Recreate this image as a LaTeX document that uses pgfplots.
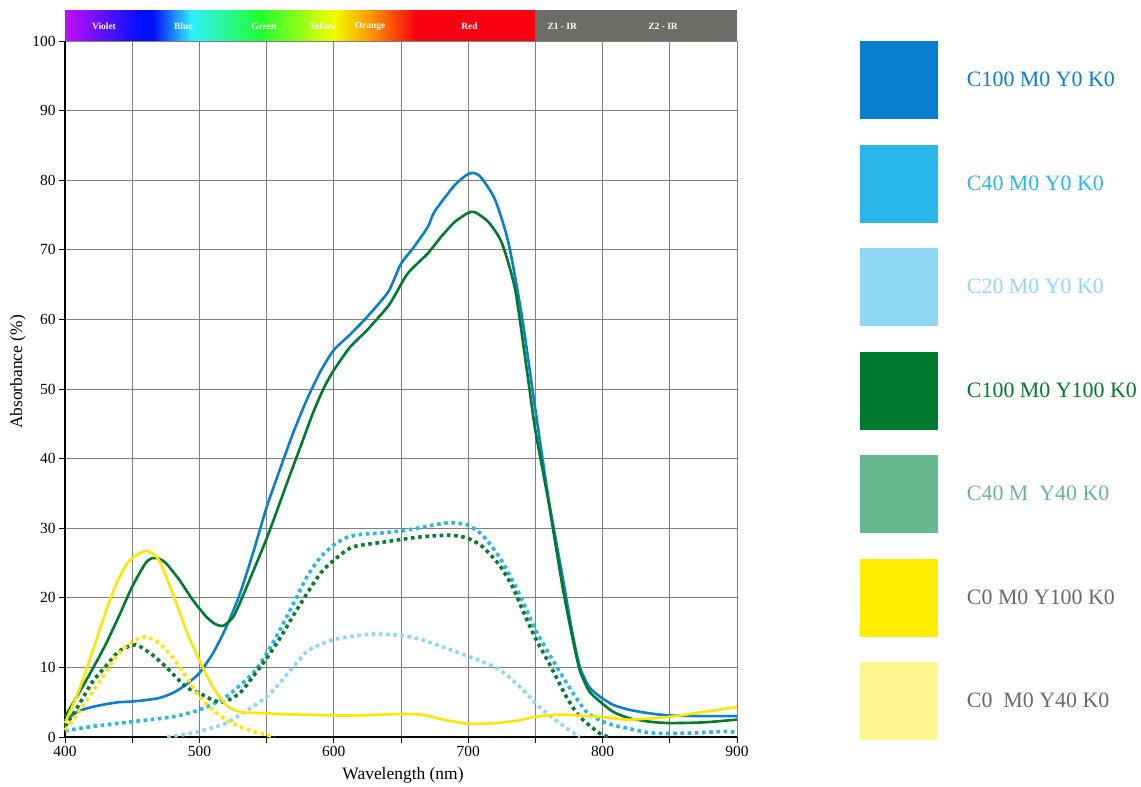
\documentclass[border=0pt]{standalone}
\usepackage{fontspec}
\setmainfont{Liberation Serif}
\usepackage{pgfplots}
\pgfplotsset{compat=1.18}
\definecolor{cA}{HTML}{0A7FD0}
\definecolor{cB}{HTML}{29B6E9}
\definecolor{cC}{HTML}{8ED8F5}
\definecolor{gA}{HTML}{007A2E}
\definecolor{gB}{HTML}{66B98E}
\definecolor{gDot}{HTML}{0B7A32}
\definecolor{yA}{HTML}{FFED00}
\definecolor{yLine}{HTML}{FFE600}
\definecolor{yB}{HTML}{FFF68F}
\definecolor{lgray}{HTML}{6F6868}
\definecolor{gridc}{HTML}{808080}
\definecolor{irgray}{HTML}{6D6D68}
\definecolor{sViolet}{HTML}{C010FF}
\definecolor{sBlue}{HTML}{0010FF}
\definecolor{sCyan}{HTML}{30F0FF}
\definecolor{sGreen}{HTML}{20FF30}
\definecolor{sYellow}{HTML}{F0FF00}
\definecolor{sOrange}{HTML}{FF8C00}
\definecolor{sRed}{HTML}{F80010}
\begin{document}
\begin{tikzpicture}
\begin{axis}[
  scale only axis, width=672bp, height=696bp,
  xmin=400, xmax=900, ymin=0, ymax=100,
  axis x line=bottom, axis y line=left,
  axis line style={line width=2.5bp, -, black},
  xtick={400,500,...,900}, minor xtick={450,550,...,850},
  ytick={0,10,...,100},
  grid=both,
  major grid style={line width=0.8bp, gridc},
  minor grid style={line width=0.8bp, gridc},
  tick align=outside, major tick length=6bp, minor tick length=6bp,
  tick style={black, line width=0.8bp},
  ticklabel style={font=\fontsize{15.5}{18}\selectfont},
  /pgf/number format/assume math mode=true,
  xlabel={Wavelength (nm)}, ylabel={Absorbance (\%)},
  label style={font=\fontsize{17.5}{20}\selectfont},
  xlabel style={at={(axis description cs:0.503,-0.0546)}, anchor=center},
  ylabel style={at={(axis description cs:-0.0699,0.5244)}, anchor=center},
  clip=false,
  legend cell align=left,
  legend style={at={(axis description cs:1.1830,1)}, anchor=north west,
    draw=none, fill=none, inner sep=0pt, outer sep=0pt,
    row sep=25.5bp, column sep=29bp,
    nodes={inner sep=0pt},
    font=\fontsize{22}{26}\selectfont},
  solidline/.style={line width=2.6bp, smooth, tension=0.4},
  dotline/.style={line width=3.6bp, dash pattern=on 3.6bp off 3.6bp, smooth, tension=0.4},
  sq/.style={legend image code/.code={\path[fill=#1, draw=none, solid, line width=0pt] (0bp,-38.7bp) rectangle (78bp,39.3bp);}},
]
% spectrum bar
\begin{scope}
\clip (axis cs:400,100) rectangle (axis cs:900,104.31);
\fill[left color=sViolet, right color=sBlue] (axis cs:400,99) rectangle (axis cs:456,105.5);
\fill[sBlue] (axis cs:455.5,99) rectangle (axis cs:466,105.5);
\fill[left color=sBlue, right color=sCyan] (axis cs:465.5,99) rectangle (axis cs:494,105.5);
\fill[left color=sCyan, right color=sGreen] (axis cs:493.5,99) rectangle (axis cs:545,105.5);
\fill[left color=sGreen, right color=sYellow] (axis cs:544.5,99) rectangle (axis cs:600,105.5);
\fill[left color=sYellow, right color=sOrange] (axis cs:599.5,99) rectangle (axis cs:630,105.5);
\fill[left color=sOrange, right color=sRed] (axis cs:629.5,99) rectangle (axis cs:662,105.5);
\fill[sRed] (axis cs:661.5,99) rectangle (axis cs:750,105.5);
\fill[irgray] (axis cs:750,99) rectangle (axis cs:900,105.5);
\end{scope}
\begin{scope}[every node/.style={text=white, font=\bfseries\fontsize{9.5}{11}\selectfont, anchor=center}]
\node at (axis cs:429,102.15) {Violet};
\node at (axis cs:488,102.15) {Blue};
\node at (axis cs:548,102.15) {Green};
\node at (axis cs:592,102.15) {Yellow};
\node at (axis cs:627,102.15) {Orange};
\node at (axis cs:701,102.15) {Red};
\node at (axis cs:770,102.15) {Z1 - IR};
\node at (axis cs:845,102.15) {Z2 - IR};
\end{scope}
\coordinate (O) at (axis cs:400,0);

% C100 M0 Y0 K0
\addplot[solidline, cA, sq=cA] coordinates {
(400,2.4)(410,3.7)(420,4.3)(430,4.7)(440,5.0)(450,5.1)(460,5.3)(470,5.6)(480,6.3)(490,7.5)
(500,9.2)(510,12)(520,15.8)(530,20.5)(540,26.5)(550,33.0)(560,38.5)(570,43.8)(580,48.5)(590,52.5)
(600,55.6)(612,57.8)(625,60.4)(640,63.8)(645,65.8)(650,68)(660,70.5)(670,73.3)(675,75.5)(690,79.3)
(700,80.9)(705,81.0)(710,80.3)(720,77.2)(730,71)(740,60.4)(750,47)(760,34)(770.6,22.6)(777,15.5)
(783,10.1)(790,7.2)(798,5.8)(808,4.6)(820,3.9)(835,3.4)(850,3.1)(875,3.0)(900,3.0)};
\addlegendentry{\textcolor{cA}{C100 M0 Y0 K0}}

% C40 M0 Y0 K0 (dotted)
\addplot[dotline, cB, sq=cB] coordinates {
(400,0.9)(420,1.5)(450,2.2)(480,2.9)(500,3.9)(520,5.8)(540,9.2)(550,12)(560,15.4)(570,19.2)
(580,23)(590,25.8)(600,27.6)(610,28.7)(620,29.1)(635,29.3)(650,29.6)(665,30.1)(675,30.5)(686,30.8)
(699,30.5)(709,29.3)(716,27.8)(724,25.6)(731,23.2)(739,20.2)(750,15.4)(763,11)(778,6.3)(788,3.6)
(798,2.4)(808,1.7)(820,1.2)(835,0.6)(850,0.5)(870,0.6)(890,0.8)(900,0.7)};
\addlegendentry{\textcolor{cB}{C40 M0 Y0 K0}}

% C20 M0 Y0 K0 (dotted)
\addplot[dotline, cC, sq=cC] coordinates {
(476,0)(490,0.4)(500,0.8)(520,2.0)(540,4.4)(550,5.8)(560,7.8)(570,10.1)(580,12.3)(590,13.3)
(600,14.0)(615,14.5)(630,14.8)(650,14.6)(665,14.0)(680,13.0)(690,12.3)(700,11.6)(712,10.7)(724,9.6)
(738.5,7.2)(753,4.3)(768,2.0)(781,0.2)(783,0)};
\addlegendentry{\textcolor{cC}{C20 M0 Y0 K0}}

% C100 M0 Y100 K0
\addplot[solidline, gA, sq=gA] coordinates {
(400,2.9)(410,6.2)(420,9.6)(430,13.2)(440,17.3)(450,21.6)(460,25)(465,25.7)(470,25.6)(475,25)
(485,22.6)(495,19.7)(505,17.3)(512,16.2)(518,16.0)(525,17.2)(530,19.2)(540,23.8)(550,28.5)(556,31.6)
(565,36.4)(575,41.6)(585,46.8)(593,50.3)(600,52.7)(612,56)(625,58.5)(640,61.8)(645,63.3)(655,66.6)
(670,69.5)(680,71.9)(690,74)(700,75.3)(705,75.4)(715,74)(725,71)(735,64.2)(745,50.8)(750,44)
(760,33.5)(770,21.8)(777,14.8)(783,9.6)(790,6.6)(798,5.1)(808,3.6)(820,2.7)(835,2.2)(850,2.0)
(875,2.1)(900,2.5)};
\addlegendentry{\textcolor{gA}{C100 M0 Y100 K0}}

% C40 M Y40 K0 (dotted)
\addplot[dotline, gDot, sq=gB] coordinates {
(400,1.5)(410,4.5)(420,7.8)(430,10.1)(440,12.3)(450,13.2)(455,13.1)(465,11.8)(475,10.1)(490,7.2)
(500,6.3)(510,5.3)(518,5.0)(530,6.3)(540,8.7)(550,11.3)(560,14.2)(570,17.5)(580,20.6)(590,23.5)
(600,25.4)(614,27.3)(637,28)(662,28.7)(686,29)(699,28.6)(709,27.6)(716,26.3)(724,24.5)(733,21.6)
(741,18.0)(750,14.2)(761,10.3)(773,5.8)(783,2.9)(798,0.5)(805,0)};
\addlegendentry{\textcolor{gB}{C40 M~ Y40 K0}}

% C0 M0 Y100 K0
\addplot[solidline, yLine, sq=yA] coordinates {
(400,2.0)(410,6.5)(420,12)(430,17.8)(437,21.5)(445,24.6)(452,26)(458,26.6)(462,26.7)(470,25.4)(480,20.7)
(490,15.4)(500,11)(510,7.2)(520,4.6)(530,3.6)(550,3.4)(560,3.3)(580,3.2)(600,3.1)(620,3.1)
(634,3.2)(650,3.3)(666,3.2)(684,2.4)(701,1.9)(721,2.0)(738,2.4)(750,2.9)(768,3.2)(783,3.1)
(798,2.9)(820,2.5)(850,2.9)(875,3.6)(900,4.3)};
\addlegendentry{\textcolor{lgray}{C0 M0 Y100 K0}}

% C0 M0 Y40 K0 (dotted)
\addplot[dotline, yLine, sq=yB] coordinates {
(400,1.0)(410,3.5)(420,6.3)(430,9.2)(440,12)(450,13.7)(460,14.4)(470,13.5)(480,11.5)(490,8.7)
(500,5.8)(510,3.9)(520,2.4)(530,1.5)(540,0.8)(550,0.3)(556,0)};
\addlegendentry{\textcolor{lgray}{C0~ M0 Y40 K0}}
\end{axis}
\path (O) ++(-65bp,-49bp) rectangle ++(1141bp,786bp);
\end{tikzpicture}
\end{document}
